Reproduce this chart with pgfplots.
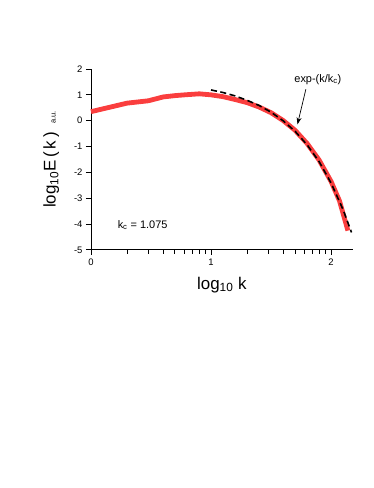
\documentclass[border=0pt]{standalone}
\usepackage{fontspec}
\setmainfont{Liberation Sans}
\usepackage{pgfplots}
\pgfplotsset{compat=1.18}
\usetikzlibrary{arrows.meta}
\definecolor{curvered}{RGB}{250,62,62}

\begin{document}
\begin{tikzpicture}
  \path[use as bounding box] (0,0) rectangle (374bp,488bp);
  \begin{axis}[
      at={(91bp,238bp)}, anchor=south west,
      scale only axis,
      width=261.7bp, height=181bp,
      axis x line=bottom,
      axis y line=left,
      axis line style={-, line width=1pt},
      xmin=0, xmax=2.18,
      ymin=-5, ymax=2,
      xtick={0,1,2},
      ytick={-5,-4,...,2},
      minor xtick={0.301,0.477,0.602,0.699,0.778,0.845,0.903,0.954,
                   1.301,1.477,1.602,1.699,1.778,1.845,1.903,1.954},
      xtick align=outside,
      ytick align=outside,
      xtick pos=bottom,
      ytick pos=left,
      major tick length=5bp,
      minor tick length=4bp,
      major tick style={draw=black, line width=1pt},
      minor tick style={draw=black, line width=0.9pt},
      /pgf/number format/assume math mode=true,
      ticklabel style={font=\fontsize{9.5}{11}\selectfont},
      xlabel={log\textsubscript{10} k},
      ylabel={log\textsubscript{10}E\,(\,k\,)\enspace{\fontsize{7.5}{9}\selectfont a.u.}},
      label style={font=\fontsize{17}{20}\selectfont},
      xlabel style={yshift=-5bp},
      ylabel style={yshift=8bp},
      clip=false,
    ]
    % measured spectrum
    \addplot[curvered, line width=4.8bp, line join=round] coordinates {
      (0,0.35) (0.301,0.68) (0.477,0.77) (0.602,0.92) (0.699,0.97)
      (0.778,1.0) (0.903,1.04) (1.0,1.0) (1.1,0.93) (1.2,0.82)
      (1.3,0.70) (1.4,0.53) (1.5,0.31) (1.6,0.01) (1.7,-0.37)
      (1.8,-0.88) (1.9,-1.52) (2.0,-2.35) (2.07,-3.1) (2.14,-4.25)
    };
    % exponential fit
    \addplot[black, line width=1.6bp, dash pattern=on 6bp off 3.5bp] coordinates {
      (1.0,1.19) (1.1,1.09) (1.2,0.96) (1.3,0.79) (1.4,0.59)
      (1.5,0.33) (1.6,0.0) (1.7,-0.41) (1.8,-0.93) (1.9,-1.58)
      (2.0,-2.41) (2.1,-3.44) (2.17,-4.32)
    };
    \node[font=\fontsize{11}{13}\selectfont] at (axis cs:1.89,1.6) {exp-(k/k\textsubscript{c})};
    \draw[-{Stealth[length=7bp,width=5bp]}, line width=0.7pt] (axis cs:1.79,1.22) -- (axis cs:1.72,-0.14);
    \node[font=\fontsize{11}{13}\selectfont] at (axis cs:0.43,-4.04) {k\textsubscript{c} = 1.075};
  \end{axis}
\end{tikzpicture}
\end{document}
